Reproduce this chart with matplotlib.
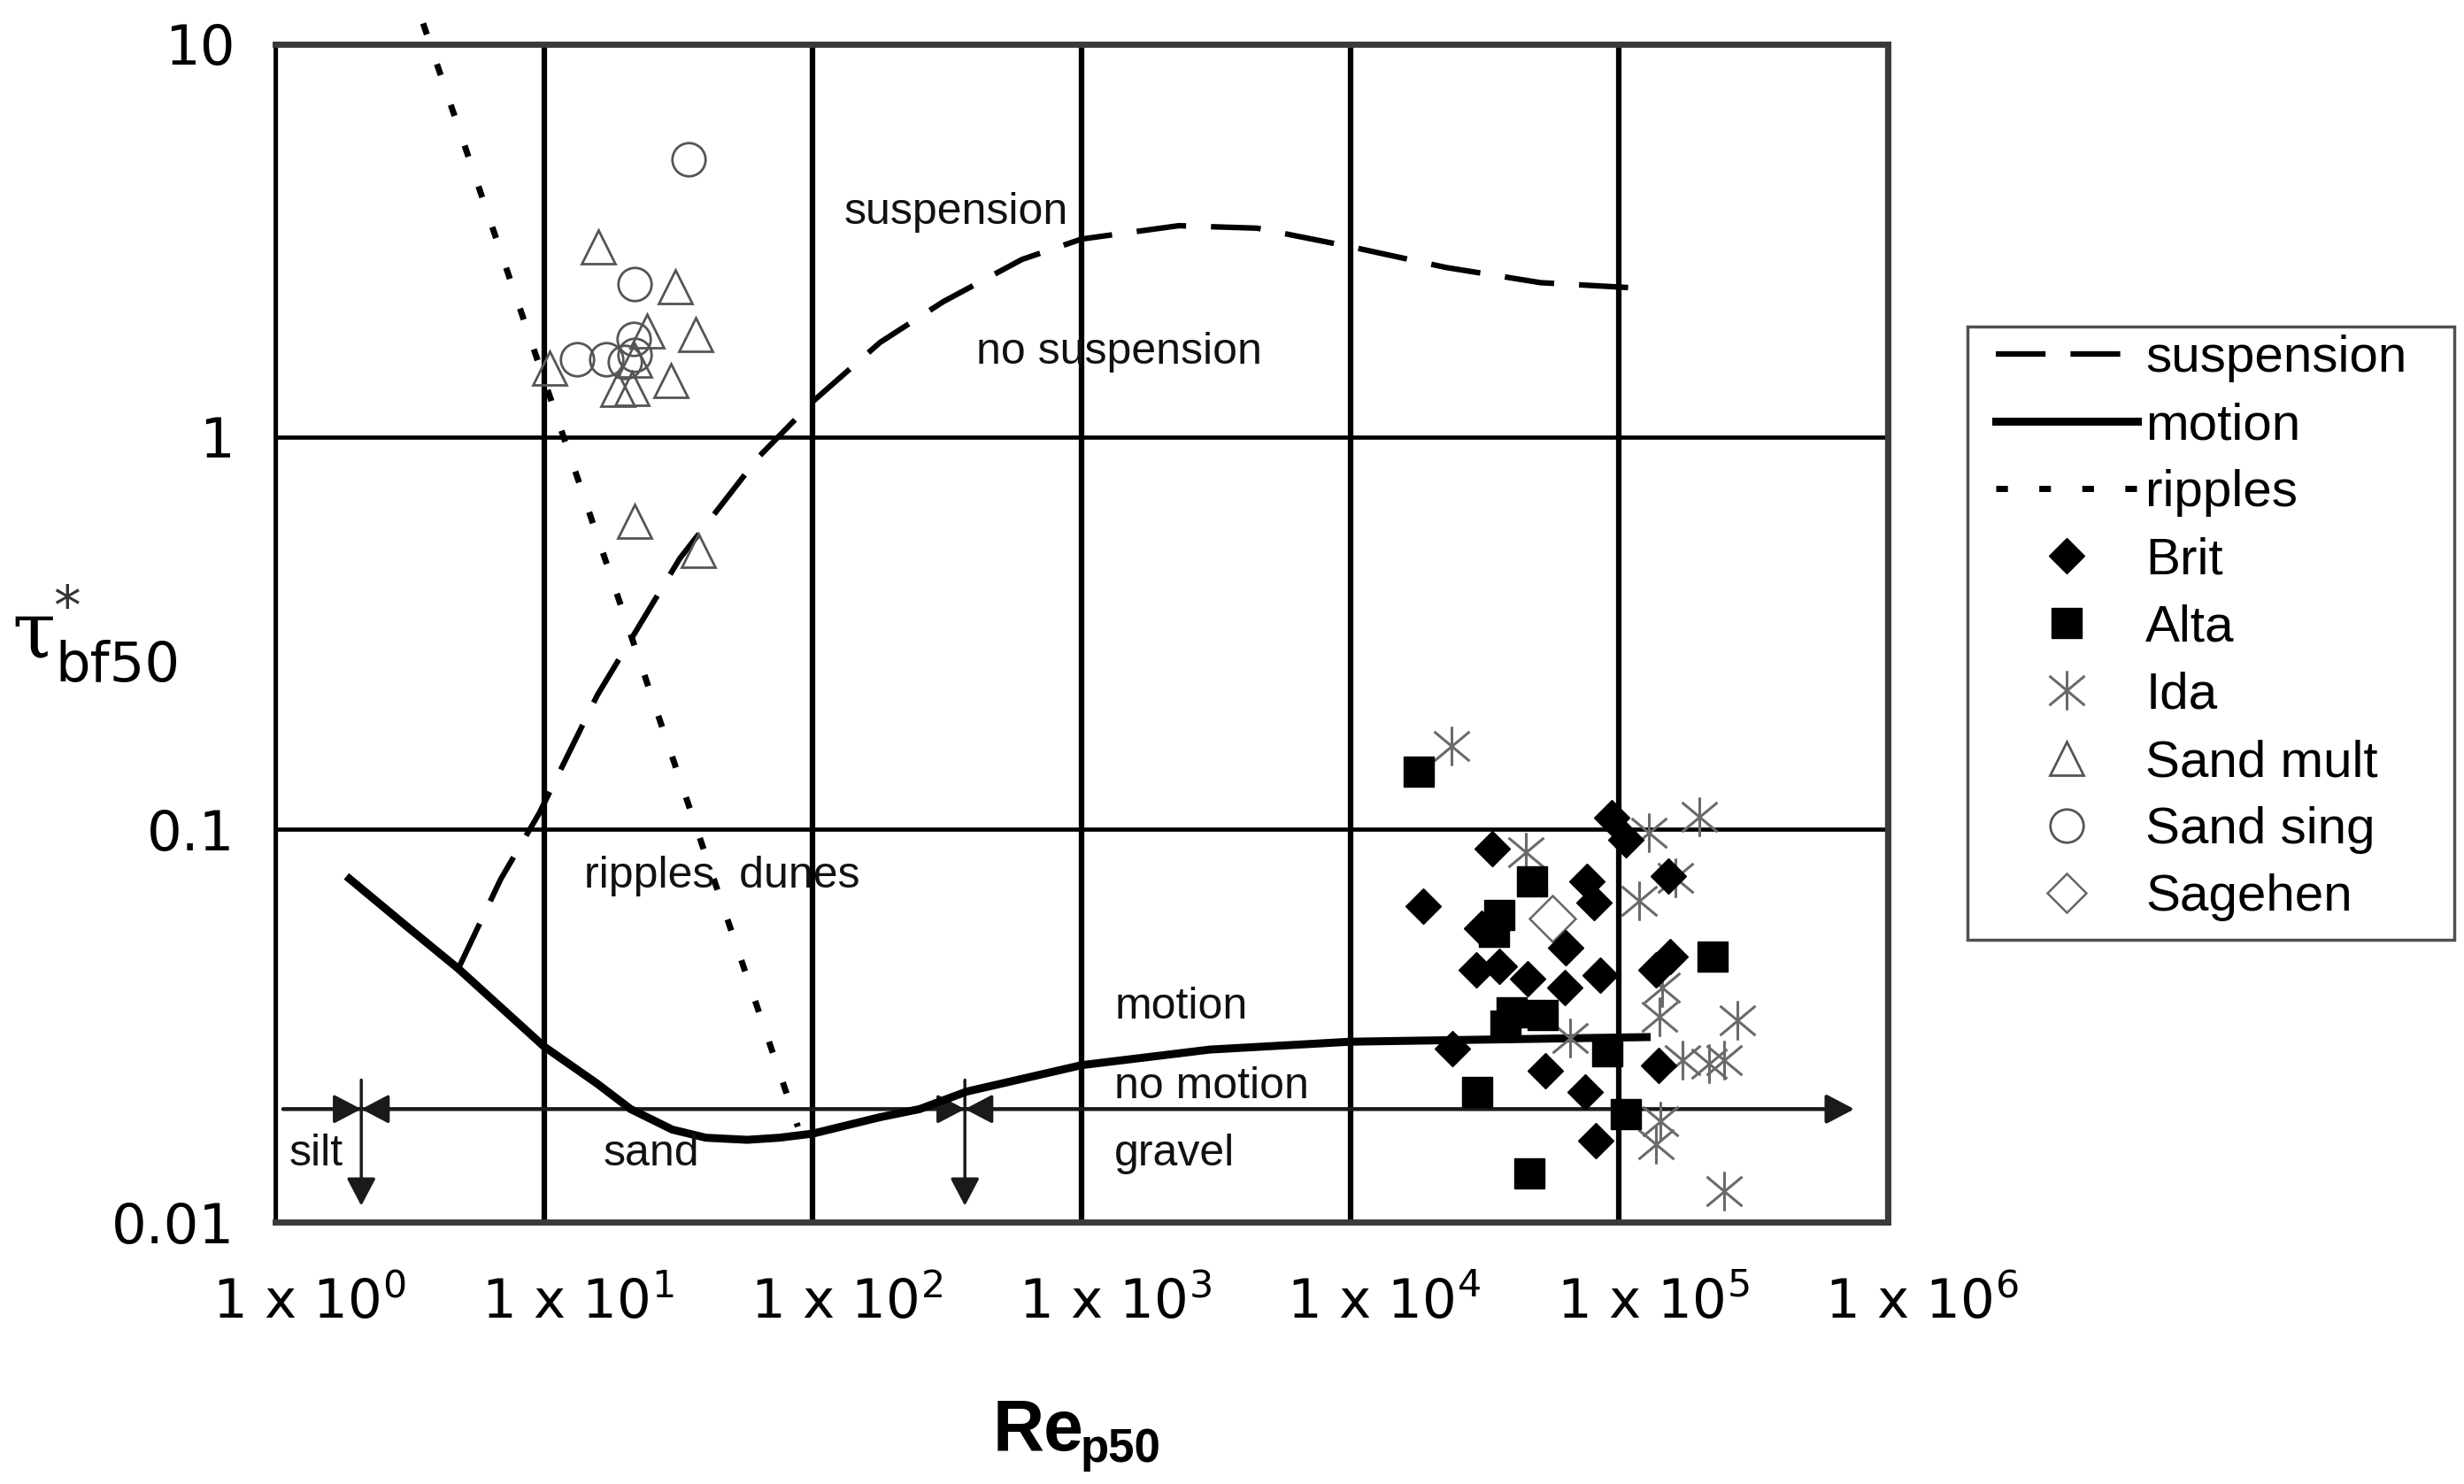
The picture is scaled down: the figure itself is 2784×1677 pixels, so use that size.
import matplotlib
matplotlib.use('Agg')
import matplotlib.pyplot as plt
import matplotlib.transforms as mtransforms
from matplotlib.path import Path
from matplotlib.lines import Line2D
from matplotlib.patches import Rectangle

# regime curves (Re_p50, tau*_bf50)
susp_re = [4.8, 6.9, 9.6, 15.8, 32, 63, 100, 178, 306, 600, 1000, 2300, 4500, 10000, 22700, 51000, 108000]
susp_tau = [0.0442, 0.0747, 0.11, 0.22, 0.49, 0.89, 1.23, 1.74, 2.21, 2.83, 3.19, 3.45, 3.4, 3.05, 2.7, 2.47, 2.4]

mot_re = [1.84, 3.1, 4.8, 10, 15.8, 21, 30, 40, 57, 75, 100, 178, 250, 374, 1000, 3000, 10000, 131000]
mot_tau = [0.076, 0.0565, 0.0442, 0.028, 0.0225, 0.0194, 0.0172, 0.0164, 0.0162, 0.0164, 0.0168, 0.0185,
           0.0194, 0.0215, 0.0251, 0.0275, 0.0288, 0.0296]

rip_re = [3.55, 88]
rip_tau = [11.3, 0.0175]

# field data
brit_re = [94000, 106000, 33600, 18600, 75700, 80700, 152000, 30800, 29300, 35900, 45600, 63400,
           62700, 85000, 155000, 137000, 23900, 53000, 74800, 140600, 81600]
brit_tau = [0.107, 0.094, 0.0894, 0.0638, 0.0736, 0.0651, 0.076, 0.056, 0.0438, 0.0447, 0.0416, 0.050,
            0.0395, 0.0425, 0.0475, 0.0438, 0.0277, 0.0243, 0.0215, 0.025, 0.0161]

alta_re = [17900, 47400, 35900, 34200, 222000, 39700, 51800, 37800, 90300, 29700, 106000, 46300]
alta_tau = [0.14, 0.0736, 0.0607, 0.0548, 0.0475, 0.0343, 0.0336, 0.0316, 0.0272, 0.0215, 0.0188, 0.0133]

ida_re = [23700, 198000, 129000, 45100, 162000, 119000, 144000, 141000, 275000, 65900, 245000,
          216000, 172000, 142000, 137000, 245000]
ida_tau = [0.163, 0.108, 0.098, 0.0876, 0.0752, 0.0659, 0.0395, 0.0333, 0.0326, 0.0294, 0.0258,
           0.0253, 0.0258, 0.0181, 0.0158, 0.012]

smult_re = [10.5, 15.9, 18.8, 21.3, 21.8, 24.2, 29.6, 30.8, 36.7, 21.8, 37.6]
smult_tau = [1.5, 3.04, 1.32, 1.33, 1.57, 1.86, 1.39, 2.41, 1.82, 0.61, 0.515]

ssing_re = [13.3, 17.0, 20.0, 21.8, 21.5, 21.8, 34.5]
ssing_tau = [1.58, 1.58, 1.55, 1.62, 1.78, 2.45, 5.1]

sage_re = [56600]
sage_tau = [0.0594]

# grain-size split line
split_tau = 0.0194
split_start, split_end = 1.07, 7.5e5
class_bounds = [2.09, 368]
arrow_top, arrow_bottom = 0.023, 0.011

xtick_vals = [1, 10, 100, 1000, 10000, 100000, 1000000]
xtick_labels = ['1 x 10$^{%d}$' % i for i in range(7)]
ytick_vals = [0.01, 0.1, 1, 10]
ytick_labels = ['0.01', '0.1', '1', '10']

region_labels = [('suspension', 340, 3.73), ('no suspension', 1380, 1.64), ('ripples  dunes', 46, 0.076),
                 ('motion', 2350, 0.0353), ('no motion', 3050, 0.0221), ('gravel', 2210, 0.0149),
                 ('sand', 25, 0.0149), ('silt', 1.42, 0.0149)]

legend_names = ['suspension', 'motion', 'ripples', 'Brit', 'Alta', 'Ida', 'Sand mult', 'Sand sing', 'Sagehen']

plt.rcParams['font.family'] = ['Liberation Sans', 'DejaVu Sans']
plt.rcParams['mathtext.fontset'] = 'dejavusans'

W, H = 2784, 1677


def ida_marker():
    verts = [(0, -1), (0, 1), (-0.9, -0.75), (0.9, 0.75), (-0.9, 0.75), (0.9, -0.75)]
    codes = [Path.MOVETO, Path.LINETO] * 3
    return Path(verts, codes)


def main():
    fig = plt.figure(figsize=(W / 100, H / 100), dpi=100)
    ax = fig.add_axes([0.1117, 0.1765, 0.6545, 0.7937])
    ax.set_xscale('log')
    ax.set_yscale('log')
    ax.set_xlim(1, 1e6)
    ax.set_ylim(0.01, 10)
    ax.set_axisbelow(True)

    ax.set_xticks(xtick_vals)
    ax.set_xticklabels(xtick_labels)
    ax.set_yticks(ytick_vals)
    ax.set_yticklabels(ytick_labels)
    ax.minorticks_off()
    ax.tick_params(axis='x', length=0, pad=45, labelsize=44)
    ax.tick_params(axis='y', length=0, pad=33, labelsize=45)
    for lab in ax.get_xticklabels() + ax.get_yticklabels():
        lab.set_family('DejaVu Sans')
    shift = mtransforms.ScaledTranslation(0.38, 0, fig.dpi_scale_trans)
    for lab in ax.get_xticklabels():
        lab.set_transform(lab.get_transform() + shift)

    ax.xaxis.grid(True, color='black', lw=4.5)
    ax.yaxis.grid(True, color='black', lw=3.4)
    for side in ['top', 'right', 'bottom']:
        ax.spines[side].set_linewidth(5)
        ax.spines[side].set_color('#3a3a3a')
    ax.spines['left'].set_linewidth(3.5)
    ax.spines['left'].set_color('black')

    # curves
    ax.plot(susp_re, susp_tau, color='black', lw=4.5, dashes=(9, 4.5), zorder=3)
    ax.plot(mot_re, mot_tau, color='black', lw=6.5, solid_capstyle='butt', solid_joinstyle='round', zorder=3)
    ax.plot(rip_re, rip_tau, color='black', lw=5, dashes=(1.9, 5.1), clip_on=False, zorder=3)

    # grain size arrows
    ax.annotate('', xy=(split_end, split_tau), xytext=(split_start, split_tau),
                arrowprops=dict(arrowstyle='-|>,head_length=0.8,head_width=0.42', color='#1a1a1a',
                                lw=3.2, shrinkA=0, shrinkB=0, mutation_scale=24), zorder=2)
    head_kw = dict(arrowstyle='-|>,head_length=0.8,head_width=0.42', color='#1a1a1a', lw=2.5,
                   shrinkA=0, shrinkB=0, mutation_scale=24)
    for xb in class_bounds:
        ax.annotate('', xy=(xb, arrow_bottom), xytext=(xb, arrow_top), arrowprops=head_kw, zorder=2)
        ax.annotate('', xy=(xb, split_tau), xytext=(-20, 0), textcoords='offset points',
                    arrowprops=head_kw, zorder=2)
        ax.annotate('', xy=(xb, split_tau), xytext=(20, 0), textcoords='offset points',
                    arrowprops=head_kw, zorder=2)

    # data
    ax.plot(sage_re, sage_tau, ls='none', marker='D', ms=26, mfc='none', mec='#666666', mew=1.8, zorder=4)
    ax.plot(smult_re, smult_tau, ls='none', marker='^', ms=27, mfc='none', mec='#555555', mew=2, zorder=4)
    ax.plot(ssing_re, ssing_tau, ls='none', marker='o', ms=27, mfc='none', mec='#555555', mew=2, zorder=4)
    ax.plot(ida_re, ida_tau, ls='none', marker=ida_marker(), ms=32, mec='#6a6a6a', mew=2.2, zorder=4)
    ax.plot(alta_re, alta_tau, ls='none', marker='s', ms=24, color='black', zorder=5)
    ax.plot(brit_re, brit_tau, ls='none', marker='D', ms=20, color='black', zorder=5)

    for text, x, y in region_labels:
        ax.text(x, y, text, fontsize=36, ha='center', va='center', color='#111111', zorder=6)

    # axis titles
    fig.text(13 / W, 1 - 743 / H, '\u03c4', fontsize=64, family='DejaVu Serif', va='baseline')
    fig.text(60 / W, 1 - 705 / H, '*', fontsize=44, family='DejaVu Sans', va='baseline', color='#333333')
    fig.text(62 / W, 1 - 770 / H, 'bf50', fontsize=45, family='DejaVu Sans', va='baseline')
    fig.text(1122 / W, 1 - 1639 / H, 'Re', fontsize=58, weight='bold', va='baseline')
    fig.text(1221 / W, 1 - 1652 / H, 'p50', fontsize=38, weight='bold', va='baseline')

    # legend: box drawn separately so its padding matches the original
    fig.patches.append(Rectangle((2223 / W, 1 - 1062 / H), 550 / W, 693 / H, transform=fig.transFigure,
                                 facecolor='white', edgecolor='#505050', lw=2.5, zorder=4))
    handles = [
        Line2D([], [], color='black', lw=4.5, dashes=(9, 4.5)),
        Line2D([], [], color='black', lw=6.5),
        Line2D([], [], color='black', lw=5, dashes=(1.9, 5.1)),
        Line2D([], [], ls='none', marker='D', ms=20, color='black'),
        Line2D([], [], ls='none', marker='s', ms=24, color='black'),
        Line2D([], [], ls='none', marker=ida_marker(), ms=32, mec='#6a6a6a', mew=2.2),
        Line2D([], [], ls='none', marker='^', ms=27, mfc='none', mec='#555555', mew=2),
        Line2D([], [], ls='none', marker='o', ms=27, mfc='none', mec='#555555', mew=2),
        Line2D([], [], ls='none', marker='D', ms=22, mfc='none', mec='#666666', mew=1.8),
    ]
    fig.legend(handles, legend_names, loc='upper left', bbox_to_anchor=(2255 / W, 1 - 378 / H),
               bbox_transform=fig.transFigure, fontsize=42, frameon=False,
               handlelength=2.75, handletextpad=0.15, labelspacing=0.38, borderpad=0,
               borderaxespad=0)

    fig.savefig('out.png', dpi=100)


if __name__ == '__main__':
    main()
